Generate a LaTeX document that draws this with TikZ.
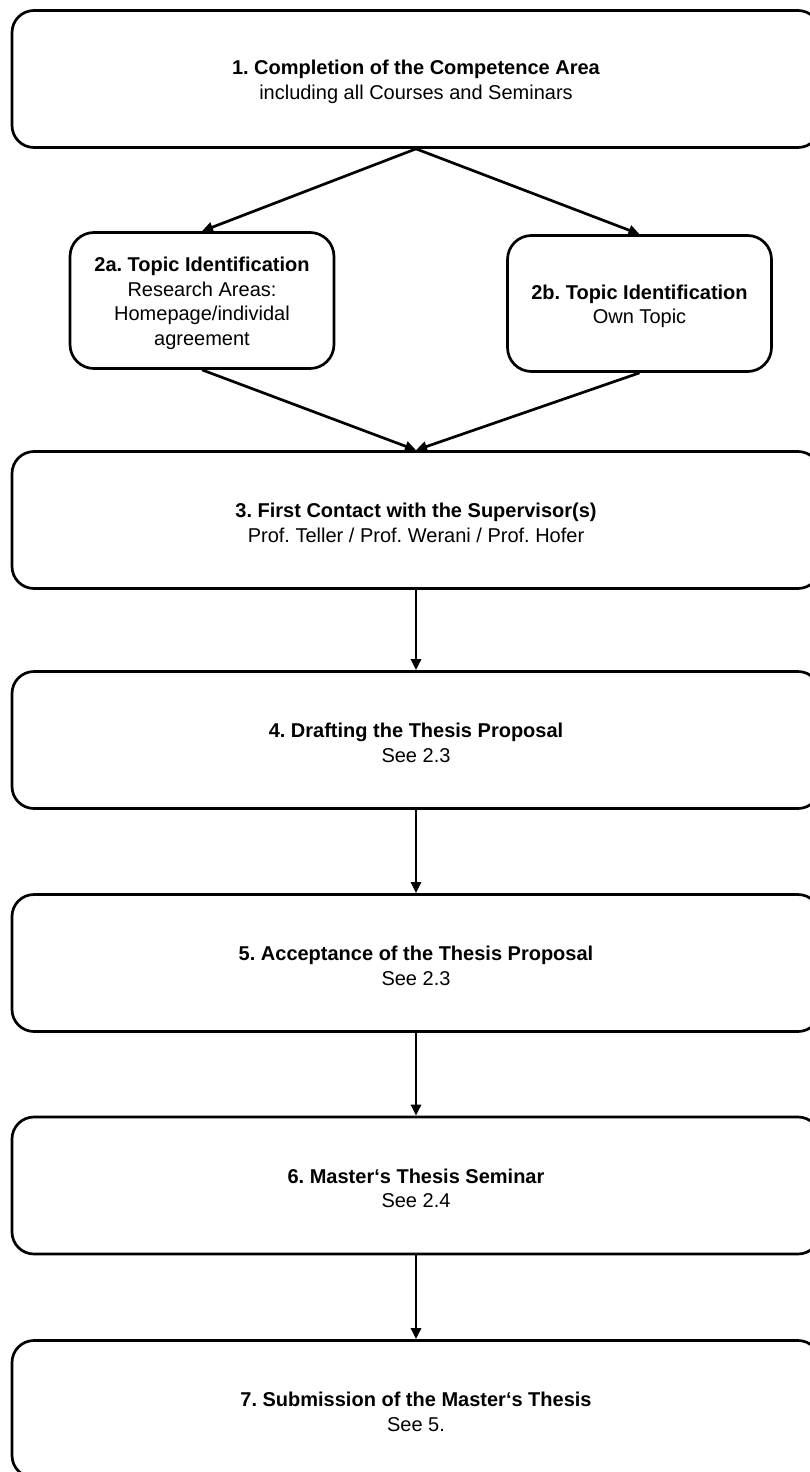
\documentclass[tikz,border=0pt]{standalone}
\usepackage{fontspec}
\setmainfont{Liberation Sans}
\usetikzlibrary{arrows.meta}
\newcommand\tfix{\rule{0pt}{20.5pt}}
\begin{document}
\frenchspacing
\begin{tikzpicture}[x=1pt,y=-1pt,
  box/.style={draw, line width=2.7pt, rounded corners=22pt, align=center, inner sep=0pt,
    font=\fontsize{20}{24.5}\selectfont},
  wide/.style={box, minimum width=808pt, minimum height=137pt},
  small/.style={box, rounded corners=24pt, minimum width=264pt, minimum height=136pt},
  arr/.style={line width=2.7pt, -{Triangle[length=11pt,width=10pt]}}]
\clip (0,0) rectangle (810,1472);
\node[wide] (b1) at (416,79) {\tfix\textbf{1. Completion of the Competence Area}\\including all Courses and Seminars};
\node[small] (b2a) at (202,300.5) {\tfix\textbf{2a. Topic Identification}\\Research Areas:\\Homepage/individal\\agreement};
\node[small] (b2b) at (639.5,303.5) {\tfix\textbf{2b. Topic Identification}\\Own Topic};
\node[wide] (b3) at (416,520) {\tfix\textbf{3. First Contact with the Supervisor(s)}\\Prof. Teller / Prof. Werani / Prof. Hofer};
\node[wide] (b4) at (416,740) {\tfix\textbf{4. Drafting the Thesis Proposal}\\See 2.3};
\node[wide] (b5) at (416,963) {\tfix\textbf{5. Acceptance of the Thesis Proposal}\\See 2.3};
\node[wide] (b6) at (416,1185.5) {\tfix\textbf{6. Master‘s Thesis Seminar}\\See 2.4};
\node[wide] (b7) at (416,1409) {\tfix\textbf{7. Submission of the Master‘s Thesis}\\See 5.};
\draw[arr] (b1.south) -- (b2a.north);
\draw[arr] (b1.south) -- (b2b.north);
\draw[arr] (b2a.south) -- (b3.north);
\draw[arr] (b2b.south) -- (b3.north);
\draw[arr] (b3) -- (b4);
\draw[arr] (b4) -- (b5);
\draw[arr] (b5) -- (b6);
\draw[arr] (b6) -- (b7);
\end{tikzpicture}
\end{document}
